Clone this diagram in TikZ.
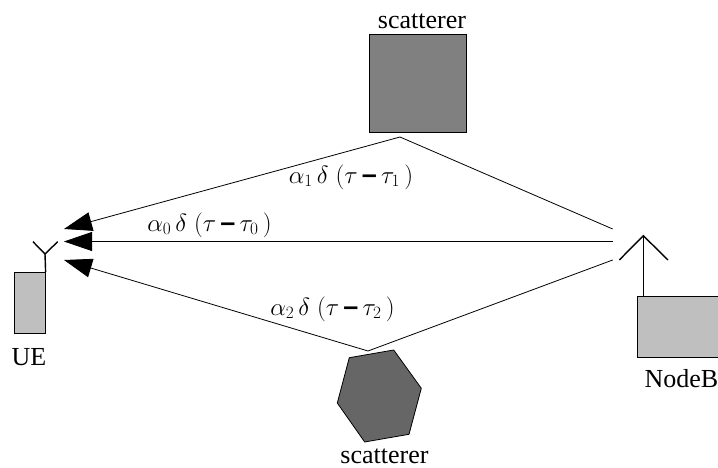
\documentclass[tikz,border=0pt]{standalone}
\usepackage{fontspec}
\setmainfont{Liberation Serif}
\newfontfamily\dashfont{Liberation Sans}
\newcommand{\raydash}{\hbox{\dashfont\bfseries\char"2013}}
\usetikzlibrary{arrows.meta, positioning}

\begin{document}
\begin{tikzpicture}[x=1pt, y=-1pt, line width=0.8pt,
    device/.style={rectangle, draw, fill=black!25, inner sep=0pt},
    antenna/.style={line width=1.4pt},
    path ray/.style={-{Triangle[length=28pt, width=19pt]}},
    caption/.style={anchor=base, inner sep=0pt, font=\fontsize{26}{26}\selectfont},
    gain/.style={anchor=base, inner sep=0pt, font=\fontsize{27}{27}\selectfont}]
    \useasboundingbox (0,0) rectangle (718,468);

    \node [rectangle, draw, fill=black!50, inner sep=0pt, minimum width=97pt, minimum height=98pt] (scatter top) at (417.5,83) {};
    \node [device, minimum width=31pt, minimum height=61pt] (ue) at (29.7,302.8) {};
    \node [device, minimum width=90pt, minimum height=61pt] (nodeb) at (682.3,327.2) {};
    \draw [fill=black!60] (349.3,357.7) -- (393.7,350) -- (421.3,388.3) -- (409,434.3) -- (364.7,442) -- (337.3,403) -- cycle;

    \node [caption] (label top) at (422,29) {scatterer};
    \node [caption] (label bottom) at (384.5,463) {scatterer};
    \node [caption] (label ue) at (29,365) {UE};
    \node [caption] (label nodeb) at (681.5,387) {NodeB};

    \coordinate (ue hub) at (45,254);
    \coordinate (ue left) at (33,241.7);
    \coordinate (ue right) at (57.7,241.7);
    \coordinate (nodeb foot) at (643.3,296.7);
    \coordinate (nodeb hub) at (643.3,235.7);
    \coordinate (nodeb left) at (619.3,260);
    \coordinate (nodeb right) at (668,260);

    \draw [antenna] (ue.north east) -- (ue hub);
    \draw [antenna] (ue left) -- (ue hub) -- (ue right);
    \draw [antenna] (nodeb foot) -- (nodeb hub);
    \draw [antenna] (nodeb left) -- (nodeb hub) -- (nodeb right);

    \coordinate (tx one) at (612.7,229);
    \coordinate (tx zero) at (612.7,241.5);
    \coordinate (tx two) at (612.7,260);
    \coordinate (bounce one) at (400,137);
    \coordinate (bounce two) at (368,351);
    \coordinate (rx one) at (64,229);
    \coordinate (rx zero) at (64,241.5);
    \coordinate (rx two) at (64,260);

    \draw [path ray] (tx one) -- (bounce one) -- (rx one);
    \draw [path ray] (tx zero) -- (rx zero);
    \draw [path ray] (tx two) -- (bounce two) -- (rx two);

    \node [gain] (gain one) at (351,183) {$\alpha_{1}\,\delta\;(\tau\,\raydash\,\tau_{1}\,)$};
    \node [gain] (gain zero) at (209.5,231) {$\alpha_{0}\,\delta\;(\tau\,\raydash\,\tau_{0}\,)$};
    \node [gain] (gain two) at (332.5,315) {$\alpha_{2}\,\delta\;(\tau\,\raydash\,\tau_{2}\,)$};
\end{tikzpicture}
\end{document}
